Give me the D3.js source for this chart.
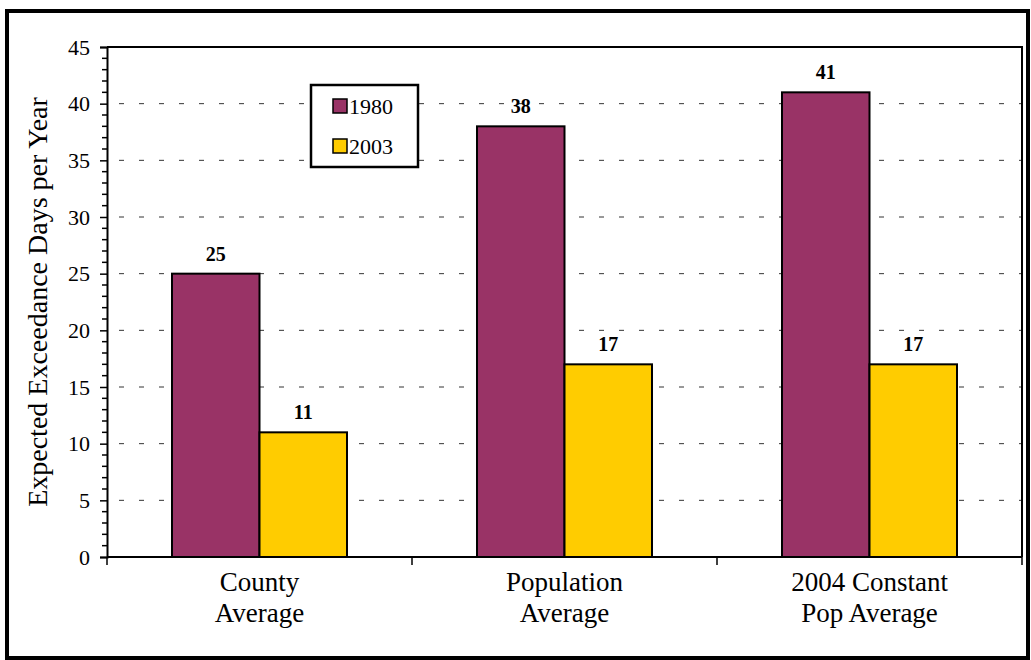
<!DOCTYPE html>
<html>
<head>
<meta charset="utf-8">
<script src="https://cdn.jsdelivr.net/npm/d3@7"></script>
<style>
  body { margin: 0; background: #fff; }
</style>
</head>
<body>
<div id="chart"></div>
<script>
var w = 1031, h = 660;
var margin = {top: 47, right: 9, bottom: 103, left: 107};
var serif = "'Liberation Serif', 'Times New Roman', Times, serif";

// Data
var categories = [["County", "Average"], ["Population", "Average"], ["2004 Constant", "Pop Average"]];
var seriesNames = ["1980", "2003"];
var values1980 = [25, 38, 41];
var values2003 = [11, 17, 17];
var colors = ["#993366", "#FFCC00"];
var yTicks = [0, 5, 10, 15, 20, 25, 30, 35, 40, 45];

var svg = d3.select("#chart")
  .append("svg")
  .attr("width", w)
  .attr("height", h)
  .style("font-family", serif);

// Outer frame
svg.append("rect")
  .attr("x", 7).attr("y", 11)
  .attr("width", w - 10).attr("height", h - 13)
  .attr("fill", "none")
  .attr("stroke", "#000")
  .attr("stroke-width", 4);

var x0 = d3.scaleBand()
  .domain(d3.range(categories.length))
  .range([margin.left, w - margin.right])
  .paddingInner(0)
  .paddingOuter(0);

var innerPad = (x0.bandwidth() - 175) / 2;
var x1 = d3.scaleBand()
  .domain(seriesNames)
  .range([innerPad, x0.bandwidth() - innerPad]);

var y = d3.scaleLinear()
  .domain([0, 45])
  .range([h - margin.bottom, margin.top]);

// Gridlines
svg.append("g")
  .selectAll("line")
  .data(yTicks.slice(1, -1))
  .enter()
  .append("line")
  .attr("x1", margin.left)
  .attr("x2", w - margin.right)
  .attr("y1", function(d) { return y(d); })
  .attr("y2", function(d) { return y(d); })
  .attr("stroke", "#333")
  .attr("stroke-width", 1)
  .attr("stroke-dasharray", "5,15")
  .attr("stroke-dashoffset", -12);

// Plot frame top and right
svg.append("path")
  .attr("d", "M" + margin.left + "," + y(45) + "H" + (w - margin.right) + "V" + y(0))
  .attr("fill", "none")
  .attr("stroke", "#000")
  .attr("stroke-width", 2);

// Bars
var data = categories.map(function(c, i) {
  return [{key: "1980", value: values1980[i]}, {key: "2003", value: values2003[i]}];
});

var groups = svg.append("g")
  .selectAll("g")
  .data(data)
  .enter()
  .append("g")
  .attr("transform", function(d, i) { return "translate(" + x0(i) + ",0)"; });

groups.selectAll("rect")
  .data(function(d) { return d; })
  .enter()
  .append("rect")
  .attr("x", function(d) { return x1(d.key); })
  .attr("y", function(d) { return y(d.value); })
  .attr("width", x1.bandwidth())
  .attr("height", function(d) { return y(0) - y(d.value); })
  .attr("fill", function(d, i) { return colors[i]; })
  .attr("stroke", "#000")
  .attr("stroke-width", 2);

groups.selectAll("text.val")
  .data(function(d) { return d; })
  .enter()
  .append("text")
  .attr("class", "val")
  .attr("x", function(d) { return x1(d.key) + x1.bandwidth() / 2; })
  .attr("y", function(d) { return y(d.value) - 13; })
  .attr("text-anchor", "middle")
  .style("font-family", serif)
  .style("font-size", "20px")
  .style("font-weight", "bold")
  .text(function(d) { return d.value; });

// Y axis
var yAxis = d3.axisLeft(y)
  .tickValues(yTicks)
  .tickSize(7)
  .tickPadding(10)
  .tickFormat(d3.format("d"));

var yg = svg.append("g")
  .attr("transform", "translate(" + margin.left + ",0)")
  .call(yAxis)
  .attr("font-family", null)
  .attr("font-size", null);
yg.select(".domain").attr("stroke-width", 2);
yg.selectAll(".tick line").attr("stroke-width", 1.5);
yg.selectAll(".tick text")
  .style("font-family", serif)
  .style("font-size", "22px")
  .attr("fill", "#000");

// minor ticks
yg.append("g")
  .selectAll("line")
  .data(d3.range(0, 46).filter(function(d) { return d % 5 !== 0; }))
  .enter()
  .append("line")
  .attr("x1", -5).attr("x2", 0)
  .attr("y1", function(d) { return y(d); })
  .attr("y2", function(d) { return y(d); })
  .attr("stroke", "#000")
  .attr("stroke-width", 1.5);

// X axis
var xg = svg.append("g")
  .attr("transform", "translate(0," + y(0) + ")");
xg.append("line")
  .attr("x1", margin.left).attr("x2", w - margin.right)
  .attr("stroke", "#000").attr("stroke-width", 2);
xg.selectAll("line.tk")
  .data(d3.range(categories.length + 1))
  .enter()
  .append("line")
  .attr("class", "tk")
  .attr("x1", function(d) { return margin.left + d * x0.bandwidth(); })
  .attr("x2", function(d) { return margin.left + d * x0.bandwidth(); })
  .attr("y1", 0).attr("y2", 8)
  .attr("stroke", "#000").attr("stroke-width", 1.5);

var catLabels = xg.selectAll("text.cat")
  .data(categories)
  .enter()
  .append("text")
  .attr("class", "cat")
  .attr("text-anchor", "middle")
  .attr("transform", function(d, i) { return "translate(" + (x0(i) + x0.bandwidth() / 2) + ",0)"; })
  .style("font-family", serif)
  .style("font-size", "27px");
catLabels.append("tspan").attr("x", 0).attr("y", 34).text(function(d) { return d[0]; });
catLabels.append("tspan").attr("x", 0).attr("y", 65).text(function(d) { return d[1]; });

// Y axis title
svg.append("text")
  .attr("transform", "translate(47," + ((y(0) + y(45)) / 2) + ") rotate(-90)")
  .attr("text-anchor", "middle")
  .style("font-family", serif)
  .style("font-size", "28px")
  .text("Expected Exceedance Days per Year");

// Legend
var legend = svg.append("g").attr("transform", "translate(311,85)");
legend.append("rect")
  .attr("width", 107).attr("height", 82)
  .attr("fill", "#fff")
  .attr("stroke", "#000")
  .attr("stroke-width", 2.5);
seriesNames.forEach(function(s, i) {
  legend.append("rect")
    .attr("x", 22).attr("y", 14 + i * 40)
    .attr("width", 14).attr("height", 14)
    .attr("fill", colors[i])
    .attr("stroke", "#000")
    .attr("stroke-width", 1.5);
  legend.append("text")
    .attr("x", 38).attr("y", 29 + i * 40)
    .style("font-family", serif)
    .style("font-size", "22px")
    .text(s);
});
</script>
</body>
</html>
